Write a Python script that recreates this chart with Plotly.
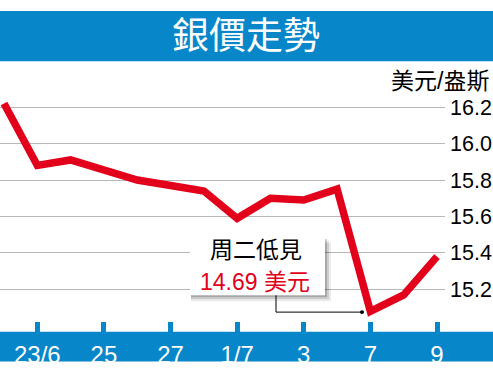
import plotly.graph_objects as go

# ---- data ----
days = ["22/6", "23/6", "24/6", "25/6", "26/6", "27/6", "30/6", "1/7", "2/7", "3/7", "6/7", "7/7", "8/7", "9/7"]
prices = [16.22, 15.88, 15.91, 15.85, 15.80, 15.77, 15.74, 15.59, 15.70, 15.69, 15.75, 15.08, 15.17, 15.38]
tick_idx = [1, 3, 5, 7, 9, 11, 13]
tick_text = ["23/6", "25", "27", "1/7", "3", "7", "9"]
y_ticks = [15.2, 15.4, 15.6, 15.8, 16.0, 16.2]
y_ticktext = ["15.2", "15.4", "15.6", "15.8", "16.0", "16.2"]
title_text = "銀價走勢"
unit_text = "美元/盎斯"
note_line1 = "周二低見"
note_line2 = "14.69 美元"

W, H = 493, 368
ML, MR, MT, MB = 0, 48, 90, 44
PW = W - ML - MR
PH = H - MT - MB
BLUE = "#0786CA"
RED = "#E2001A"
FONT = "Liberation Sans, Arial, Noto Sans CJK TC, sans-serif"


def px(x):
    return (x - ML) / PW


def py(y):
    return (H - MB - y) / PH


x_idx = list(range(len(days)))

fig = go.Figure()
fig.add_trace(go.Scatter(
    x=x_idx, y=prices, mode="lines",
    line=dict(color=RED, width=7.5),
    hoverinfo="skip", showlegend=False,
))

shapes = []
# title bar
shapes.append(dict(type="rect", xref="paper", yref="paper",
                   x0=px(0), x1=px(W), y0=py(61), y1=py(10),
                   fillcolor=BLUE, line=dict(width=0), layer="below"))
# bottom bar
shapes.append(dict(type="rect", xref="paper", yref="paper",
                   x0=px(0), x1=px(W), y0=py(365), y1=py(335),
                   fillcolor=BLUE, line=dict(width=0), layer="below"))
# callout shadow
for off, op in [(6, 0.08), (4, 0.12), (2, 0.18)]:
    shapes.append(dict(type="rect", xref="paper", yref="paper",
                       x0=px(190 + 1), x1=px(325 + off), y0=py(298 + off), y1=py(239 + off),
                       fillcolor=f"rgba(0,0,0,{op})", line=dict(width=0), layer="above"))
# callout box
shapes.append(dict(type="rect", xref="paper", yref="paper",
                   x0=px(190), x1=px(325), y0=py(298), y1=py(238),
                   fillcolor="white", line=dict(width=0), layer="above"))
# leader line
shapes.append(dict(type="path", xref="paper", yref="paper",
                   path=f"M {px(276)} {py(298)} L {px(276)} {py(315)} L {px(362)} {py(315)}",
                   line=dict(color="black", width=1), layer="above"))
shapes.append(dict(type="circle", xref="paper", yref="paper",
                   x0=px(360), x1=px(364), y0=py(317), y1=py(313),
                   fillcolor="black", line=dict(width=0), layer="above"))

annotations = [
    dict(text=title_text, xref="paper", yref="paper", x=px(246), y=py(36),
         xanchor="center", yanchor="middle", showarrow=False,
         font=dict(size=37, color="white", family=FONT)),
    dict(text=unit_text, xref="paper", yref="paper", x=px(491), y=py(81),
         xanchor="right", yanchor="middle", showarrow=False,
         font=dict(size=23, color="black", family=FONT)),
    dict(text=note_line1, xref="paper", yref="paper", x=px(256), y=py(252),
         xanchor="center", yanchor="middle", showarrow=False,
         font=dict(size=23, color="black", family=FONT)),
    dict(text=note_line2, xref="paper", yref="paper", x=px(255), y=py(284),
         xanchor="center", yanchor="middle", showarrow=False,
         font=dict(size=23, color=RED, family=FONT)),
]

# axis ranges from pixel calibration
x_per = (437 - 4) / 13.0
x0 = -4 / x_per
x1 = (PW - 4) / x_per
y_per = (292 - 107.3) / 1.0
ytop = 16.2 + (107.3 - MT) / y_per
ybot = 15.2 - (H - MB - 292) / y_per

fig.update_layout(
    width=W, height=H,
    margin=dict(l=ML, r=MR, t=MT, b=MB, pad=0),
    paper_bgcolor="white", plot_bgcolor="white",
    shapes=shapes, annotations=annotations,
    xaxis=dict(range=[x0, x1], tickmode="array", tickvals=tick_idx, ticktext=tick_text,
               ticks="outside", ticklen=11, tickwidth=5, tickcolor=BLUE,
               showgrid=False, zeroline=False, showline=False,
               tickfont=dict(size=24, color="white", family=FONT),
               ticklabelstandoff=1, fixedrange=True),
    yaxis=dict(range=[ybot, ytop], side="right", tickmode="array",
               tickvals=y_ticks, ticktext=y_ticktext, ticks="",
               showgrid=True, gridcolor="#b8b8b8", gridwidth=1,
               zeroline=False, showline=False,
               tickfont=dict(size=21.5, color="black", family=FONT),
               ticklabelstandoff=4, fixedrange=True),
    showlegend=False,
)

fig.write_html(
    "out.html",
    config={"displayModeBar": False},
    post_script="document.body.style.margin='0';document.body.style.overflow='hidden';",
)
